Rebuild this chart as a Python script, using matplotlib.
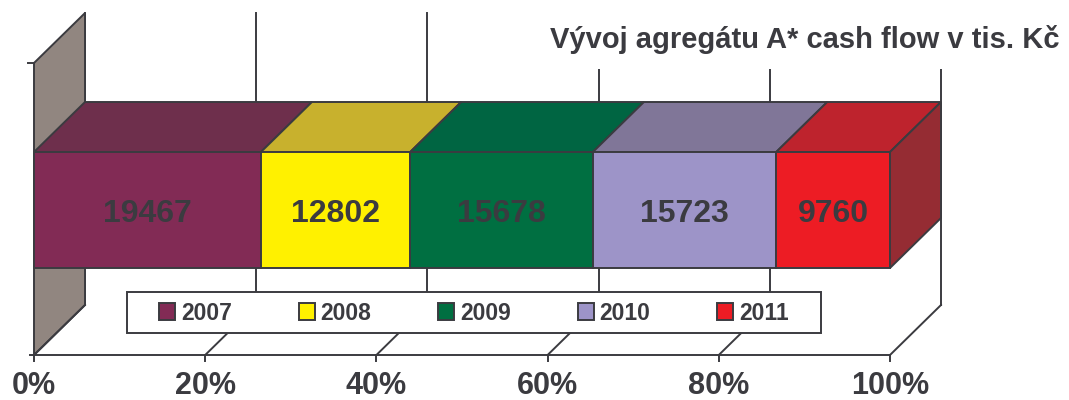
import matplotlib
matplotlib.use("Agg")
from matplotlib import pyplot as plt
from matplotlib.patches import Polygon, Rectangle, Patch
import numpy as np

# data
years = ["2007", "2008", "2009", "2010", "2011"]
values = [19467, 12802, 15678, 15723, 9760]
ticks = [0, 20, 40, 60, 80, 100]
tick_labels = ["0%", "20%", "40%", "60%", "80%", "100%"]
title = "Vývoj agregátu A* cash flow v tis. Kč"

front_colors = ["#822B55", "#FFF100", "#006F41", "#9D94C8", "#ED1C24"]
top_colors = ["#6E2F4C", "#C8B12D", "#006542", "#807698", "#BE232D"]
side_color = "#952C33"
wall_color = "#918680"
ink = "#3B3B40"

plt.rcParams['font.family'] = ['Liberation Sans', 'DejaVu Sans']

W, H = 1069, 400
fig = plt.figure(figsize=(W / 100, H / 100), dpi=100)
ax = fig.add_axes([0, 0, 1, 1])

# x in percent, y in pixels (from top)
X0, SCALE = 34, 8.56          # px of 0 %, px per 1 %
ax.set_xlim(-X0 / SCALE, (W - X0) / SCALE)
ax.set_ylim(H, 0)
ax.axis("off")

DX = 51 / SCALE               # depth offset (percent units)
DY = 50                       # depth offset (px, upwards)
floor_y, wall_top = 355, 63
bar_top, bar_bot = 152, 268
lw = 1.4


def px(x):
    return (x - X0) / SCALE


# back wall gridlines
for t in ticks:
    ax.plot([t + DX, t + DX], [wall_top - DY, floor_y - DY], color=ink, lw=lw, zorder=1)

# left wall
ax.add_patch(Polygon([(0, wall_top), (DX, wall_top - DY), (DX, floor_y - DY), (0, floor_y)],
                     closed=True, facecolor=wall_color, edgecolor=ink, lw=lw, zorder=2))
ax.plot([-6 / SCALE, 0], [wall_top, wall_top], color=ink, lw=lw, zorder=2)
ax.plot([-4 / SCALE, 0], [floor_y, floor_y], color=ink, lw=lw, zorder=2)

# floor
for t in ticks:
    ax.plot([t, t + DX], [floor_y, floor_y - DY], color=ink, lw=lw, zorder=2)
    ax.plot([t, t], [floor_y, floor_y + 6], color=ink, lw=lw, zorder=2)
ax.plot([0, 100], [floor_y, floor_y], color=ink, lw=lw, zorder=2)

for t, lab in zip(ticks, tick_labels):
    ax.text(t, 394, lab, ha="center", va="baseline", fontsize=22,
            fontweight="bold", color=ink, zorder=5)

# stacked 100 % bar
pct = np.array(values) / sum(values) * 100
cum = np.concatenate([[0], np.cumsum(pct)])
for i, v in enumerate(values):
    l, r = cum[i], cum[i + 1]
    ax.add_patch(Polygon([(l, bar_top), (r, bar_top), (r + DX, bar_top - DY), (l + DX, bar_top - DY)],
                         closed=True, facecolor=top_colors[i], edgecolor=ink, lw=lw, zorder=3))
    ax.add_patch(Rectangle((l, bar_top), r - l, bar_bot - bar_top,
                           facecolor=front_colors[i], edgecolor=ink, lw=lw, zorder=3))
    ax.text((l + r) / 2, 222, str(v), ha="center", va="baseline", fontsize=23,
            fontweight="bold", color=ink, zorder=4)
ax.add_patch(Polygon([(100, bar_top), (100 + DX, bar_top - DY), (100 + DX, bar_bot - DY), (100, bar_bot)],
                     closed=True, facecolor=side_color, edgecolor=ink, lw=lw, zorder=3))

# legend
ax.add_patch(Rectangle((px(127), 292), px(821) - px(127), 41, facecolor="white",
                       edgecolor=ink, lw=lw, zorder=6))
handles = [Patch(facecolor=c, edgecolor=ink, lw=lw) for c in front_colors]
leg = ax.legend(handles, years, loc="center", bbox_to_anchor=(px(474), 313),
                bbox_transform=ax.transData, ncol=5, frameon=False,
                prop={"weight": "bold", "size": 16.5}, labelcolor=ink,
                handlelength=0.7, handleheight=0.7, handletextpad=0.25,
                columnspacing=2.92, borderpad=0.2)
leg.set_zorder(7)

# title
ax.text(px(1060), 48, title, ha="right", va="baseline", fontsize=21,
        fontweight="bold", color=ink, zorder=8,
        bbox=dict(facecolor="white", edgecolor="none", pad=11))

fig.savefig("out.png", dpi=100)
